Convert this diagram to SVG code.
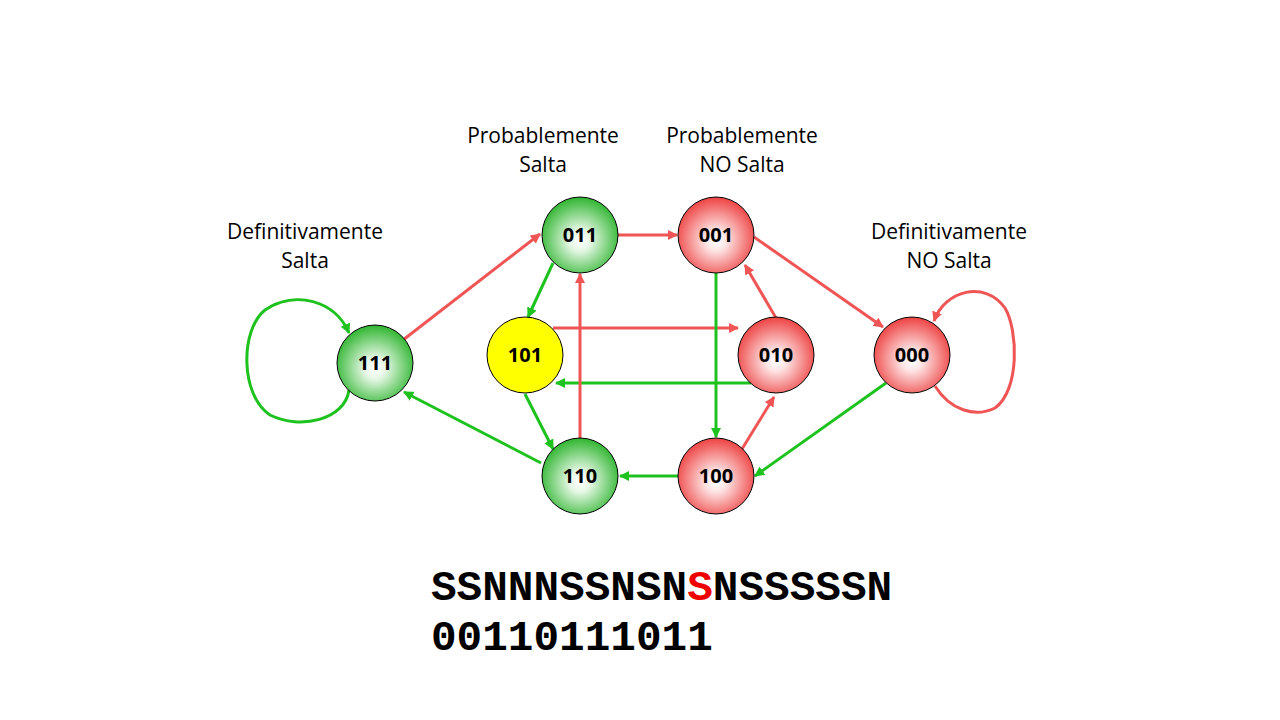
<svg xmlns="http://www.w3.org/2000/svg" width="1280" height="720" viewBox="0 0 1280 720">
<defs>
<radialGradient id="gG" cx="50%" cy="55%" r="55%" fx="50%" fy="58%">
<stop offset="0" stop-color="#ffffff"/>
<stop offset="0.25" stop-color="#e6f7e6"/>
<stop offset="1" stop-color="#2fb52f"/>
</radialGradient>
<radialGradient id="gR" cx="50%" cy="55%" r="55%" fx="50%" fy="58%">
<stop offset="0" stop-color="#ffffff"/>
<stop offset="0.25" stop-color="#fde4e4"/>
<stop offset="1" stop-color="#ee4242"/>
</radialGradient>
<marker id="aR" viewBox="0 0 10 10" refX="9" refY="5" markerWidth="3.4" markerHeight="3.4" orient="auto" markerUnits="strokeWidth">
<path d="M0,0 L10,5 L0,10 Z" fill="#f05555"/>
</marker>
<marker id="aG" viewBox="0 0 10 10" refX="9" refY="5" markerWidth="3.4" markerHeight="3.4" orient="auto" markerUnits="strokeWidth">
<path d="M0,0 L10,5 L0,10 Z" fill="#1ec21e"/>
</marker>
</defs>
<style>
.r{stroke:#f05555;stroke-width:3;fill:none;marker-end:url(#aR)}
.g{stroke:#1ec21e;stroke-width:3;fill:none;marker-end:url(#aG)}
.n circle{stroke:#000;stroke-width:1}
.n text{font-family:"Open Sans","Liberation Sans",sans-serif;font-weight:bold;font-size:20px;text-anchor:middle;fill:#000}
.lbl{font-family:"Open Sans","Liberation Sans",sans-serif;font-size:21px;text-anchor:middle;fill:#000}
.seq{font-family:"Liberation Mono","Courier New",monospace;font-weight:bold;font-size:42.7px;fill:#000}
</style>
<rect width="1280" height="720" fill="#fff"/>
<g id="connectors">
<path class="r" d="M403,340 L540,234"/>
<path class="r" d="M618,235 L677,235"/>
<path class="g" d="M553,263 L528,317"/>
<path class="r" d="M553,328 L738,328"/>
<path class="g" d="M751,383 L556,383"/>
<path class="r" d="M580,440 L580,274"/>
<path class="g" d="M525,394 L553,449"/>
<path class="g" d="M541,463 L404,392"/>
<path class="g" d="M678,476 L620,476"/>
<path class="g" d="M716,273 L716,437"/>
<path class="r" d="M742,449 L774,397"/>
<path class="r" d="M776,318 L745,265"/>
<path class="r" d="M754,237 L883,327"/>
<path class="g" d="M886,383 L755,476"/>
<path class="g" d="M349,390 C345,420 300,430 270,415 C240,395 240,330 265,310 C295,290 335,300 349,333"/>
<path class="r" d="M935,386 C950,410 975,418 995,408 C1020,390 1018,330 1005,308 C985,280 945,290 934,321"/>
</g>
<g id="n111" class="n"><circle cx="375" cy="363" r="38" fill="url(#gG)"/><text x="375" y="370">111</text></g>
<g id="n011" class="n"><circle cx="580" cy="235" r="38" fill="url(#gG)"/><text x="580" y="242">011</text></g>
<g id="n001" class="n"><circle cx="716" cy="235" r="38" fill="url(#gR)"/><text x="716" y="242">001</text></g>
<g id="n101" class="n"><circle cx="525" cy="355" r="38" fill="#ffff00"/><text x="525" y="362">101</text></g>
<g id="n010" class="n"><circle cx="776" cy="355" r="38" fill="url(#gR)"/><text x="776" y="362">010</text></g>
<g id="n000" class="n"><circle cx="912" cy="355" r="38" fill="url(#gR)"/><text x="912" y="362">000</text></g>
<g id="n110" class="n"><circle cx="580" cy="476" r="38" fill="url(#gG)"/><text x="580" y="483">110</text></g>
<g id="n100" class="n"><circle cx="716" cy="476" r="38" fill="url(#gR)"/><text x="716" y="483">100</text></g>
<g id="labels">
<text class="lbl" x="305" y="239">Definitivamente</text>
<text class="lbl" x="305" y="268">Salta</text>
<text class="lbl" x="543" y="143">Probablemente</text>
<text class="lbl" x="543" y="172">Salta</text>
<text class="lbl" x="742" y="143">Probablemente</text>
<text class="lbl" x="742" y="172">NO Salta</text>
<text class="lbl" x="949" y="239">Definitivamente</text>
<text class="lbl" x="949" y="268">NO Salta</text>
</g>
<g id="sequence">
<text class="seq" x="431" y="600">SSNNNSSNSN<tspan fill="#ee0000">S</tspan>NSSSSSN</text>
<text class="seq" x="431" y="650">00110111011</text>
</g>
</svg>
